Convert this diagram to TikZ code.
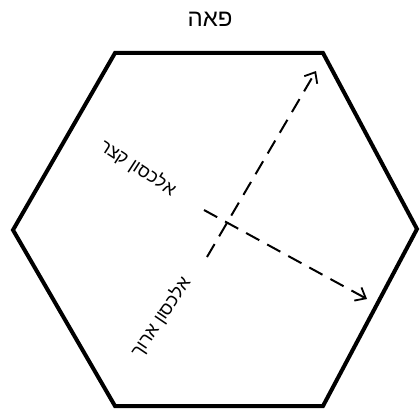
\documentclass[tikz,border=0pt]{standalone}
\usepackage{fontspec}
\setmainfont{Liberation Sans}
\TeXXeTstate=1
\usetikzlibrary{arrows.meta}

\begin{document}
\begin{tikzpicture}[x=1pt,y=-1pt,
  face/.style={line width=4pt,line join=miter},
  diag/.style={dash pattern=on 15pt off 9pt,line width=2pt,
               -{Straight Barb[length=9pt,width=15pt,line width=1.8pt]}},
  lbl/.style={font=\fontsize{18}{20}\selectfont,inner sep=1pt}]
\useasboundingbox (0,0) rectangle (420,412);
% hexagon corners
\coordinate (tl) at (115,53);
\coordinate (tr) at (323,53);
\coordinate (r)  at (417,229);
\coordinate (br) at (323,406);
\coordinate (bl) at (115,406);
\coordinate (l)  at (13,230);
\draw[face] (tl)--(tr)--(r)--(br)--(bl)--(l)--cycle;
\node[lbl,font=\fontsize{24}{26}\selectfont] (title) at (210,19) {\beginR פאה\endR};
% diagonals
\coordinate (long0) at (207,257);
\coordinate (long1) at (316,71);
\coordinate (short0) at (204,210);
\coordinate (short1) at (367,299);
\draw[diag] (long0)--(long1);
\draw[diag] (short0)--(short1);
\node[lbl,rotate=-33] (shortlbl) at (138,168) {\beginR אלכסון קצר\endR};
\node[lbl,rotate=56] (longlbl) at (161,317) {\beginR אלכסון ארוך\endR};
\end{tikzpicture}
\end{document}
